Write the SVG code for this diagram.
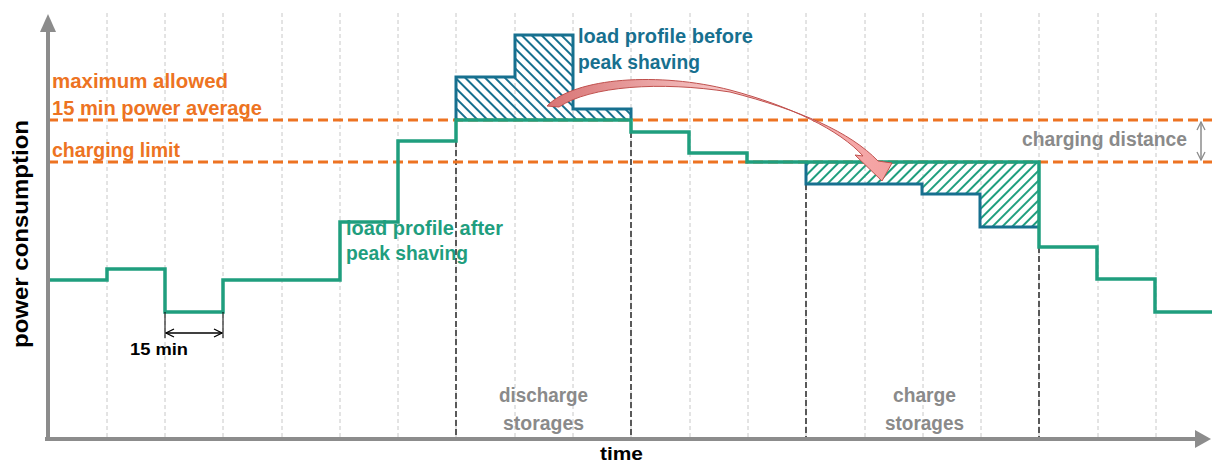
<svg xmlns="http://www.w3.org/2000/svg" width="1212" height="461" viewBox="0 0 1212 461">
<style>
.grid{stroke:#c8c8c8;stroke-width:1;stroke-dasharray:4 3;fill:none}
.dark{stroke:#595959;stroke-width:2;stroke-dasharray:6 3;fill:none}
.lim{stroke:#ED7322;stroke-width:2.8;stroke-dasharray:10 5;fill:none}
.axis{stroke:#8c8c8c;stroke-width:4;fill:none}
.green{stroke:#1f9e7e;stroke-width:3.5;fill:none}
.blue{stroke:#17708f;stroke-width:3;fill:none}
.t{font-family:"Liberation Sans",Arial,sans-serif;font-weight:bold}
.or{fill:#ED7322;font-size:21px}
.bl{fill:#17708f;font-size:21px}
.gr{fill:#1f9e7e;font-size:21px}
.gy{fill:#8a8a8a;font-size:20px}
</style>
<defs>
<pattern id="hb" patternUnits="userSpaceOnUse" width="7" height="7" patternTransform="rotate(-45)">
<line x1="1" y1="0" x2="1" y2="7" stroke="#17708f" stroke-width="2"/>
</pattern>
<pattern id="hg" patternUnits="userSpaceOnUse" width="7" height="7" patternTransform="rotate(45)">
<line x1="1" y1="0" x2="1" y2="7" stroke="#1f9e7e" stroke-width="2"/>
</pattern>
<linearGradient id="ag" x1="0" y1="0" x2="1" y2="0">
<stop offset="0" stop-color="#d87474"/>
<stop offset="0.5" stop-color="#f6c4c4"/>
<stop offset="1" stop-color="#f4a0a0"/>
</linearGradient>
<marker id="chev" viewBox="0 0 10 10" refX="9" refY="5" markerWidth="10" markerHeight="10" markerUnits="userSpaceOnUse" orient="auto-start-reverse">
<path d="M1,1 L9,5 L1,9" fill="none" stroke="#000" stroke-width="1.3"/>
</marker>
<marker id="chevg" viewBox="0 0 10 10" refX="9" refY="5" markerWidth="10" markerHeight="10" markerUnits="userSpaceOnUse" orient="auto-start-reverse">
<path d="M1,1 L9,5 L1,9" fill="none" stroke="#8c8c8c" stroke-width="1.3"/>
</marker>
</defs>

<g id="grid">
<path class="grid" d="M107,13V438M165,13V438M223,13V438M282,13V438M340,13V438M398,13V438M456,13V438M515,13V438M573,13V438M631,13V438M690,13V438M748,13V438M806,13V438M865,13V438M923,13V438M981,13V438M1039,13V438M1098,13V438M1156,13V438"/>
</g>

<g id="phase-lines">
<path class="dark" d="M456,141V439M631,132V439M806,184V439M1039,247V439"/>
</g>

<g id="limits">
<line class="lim" x1="48" y1="120" x2="1212" y2="120"/>
<line class="lim" x1="48" y1="162" x2="1212" y2="162"/>
</g>

<g id="hatch">
<path d="M456,120V77H515V35H573V109H631V120Z" fill="url(#hb)"/>
<path d="M806,162H1039V227H980V194H922V184H806Z" fill="url(#hg)"/>
</g>

<g id="profile-before">
<polyline class="blue" points="456,120 456,77 515,77 515,35 573,35 573,109 631,109 631,120"/>
<polyline class="blue" points="806,162 806,184 922,184 922,194 980,194 980,227 1039,227"/>
</g>

<g id="profile-after">
<polyline class="green" points="48,280 107,280 107,269 165,269 165,312 223,312 223,280 340,280 340,222 398,222 398,141 456,141 456,120 631,120 631,132 689,132 689,153 747,153 747,162 1039,162 1039,247 1097,247 1097,279 1155,279 1155,312 1212,312"/>
</g>

<g id="axes">
<line class="axis" x1="48" y1="30" x2="48" y2="441"/>
<line class="axis" x1="45" y1="439" x2="1196" y2="439"/>
<polygon points="48,14 40,32 56,32" fill="#8c8c8c"/>
<polygon points="1211,439 1195,430 1195,448" fill="#8c8c8c"/>
</g>

<g id="connectors">
<path d="M547,106 C575,77 660,72 730,90 C790,106 840,130 863,156 L855,155 L882,181 L892,163 L878,161 C850,132 800,110 730,92 C660,81 590,86 559,107 Z" fill="url(#ag)" stroke="#c0504d" stroke-width="1"/>
<line x1="165" y1="312" x2="165" y2="338" stroke="#000" stroke-width="1"/>
<line x1="223" y1="312" x2="223" y2="338" stroke="#000" stroke-width="1"/>
<line x1="166" y1="333" x2="222" y2="333" stroke="#000" stroke-width="1.3" marker-start="url(#chev)" marker-end="url(#chev)"/>
<line x1="1201" y1="122" x2="1201" y2="160" stroke="#8c8c8c" stroke-width="1.5" marker-start="url(#chevg)" marker-end="url(#chevg)"/>
</g>

<g id="labels">
<text class="t or" x="52" y="88" textLength="176" lengthAdjust="spacingAndGlyphs">maximum allowed</text>
<text class="t or" x="52" y="115" textLength="210" lengthAdjust="spacingAndGlyphs">15 min power average</text>
<text class="t or" x="52" y="157" textLength="128" lengthAdjust="spacingAndGlyphs">charging limit</text>
<text class="t bl" x="578" y="43" textLength="175" lengthAdjust="spacingAndGlyphs">load profile before</text>
<text class="t bl" x="578" y="69" textLength="122" lengthAdjust="spacingAndGlyphs">peak shaving</text>
<text class="t gr" x="346" y="235" textLength="157" lengthAdjust="spacingAndGlyphs">load profile after</text>
<text class="t gr" x="346" y="260" textLength="122" lengthAdjust="spacingAndGlyphs">peak shaving</text>
<text class="t gy" x="1022" y="146" textLength="165" lengthAdjust="spacingAndGlyphs" fill="#808080">charging distance</text>
<text class="t gy" x="499" y="402" textLength="89" lengthAdjust="spacingAndGlyphs">discharge</text>
<text class="t gy" x="503" y="430" textLength="81" lengthAdjust="spacingAndGlyphs">storages</text>
<text class="t gy" x="893" y="402" textLength="63" lengthAdjust="spacingAndGlyphs">charge</text>
<text class="t gy" x="885" y="430" textLength="79" lengthAdjust="spacingAndGlyphs">storages</text>
<text class="t" x="600" y="460" font-size="19" fill="#000" textLength="43" lengthAdjust="spacingAndGlyphs">time</text>
<text class="t" x="130" y="355" font-size="17" fill="#000" textLength="58" lengthAdjust="spacingAndGlyphs">15 min</text>
<text class="t" transform="translate(28,234) rotate(-90)" text-anchor="middle" font-size="22" fill="#000" textLength="228" lengthAdjust="spacingAndGlyphs">power consumption</text>
</g>
</svg>
